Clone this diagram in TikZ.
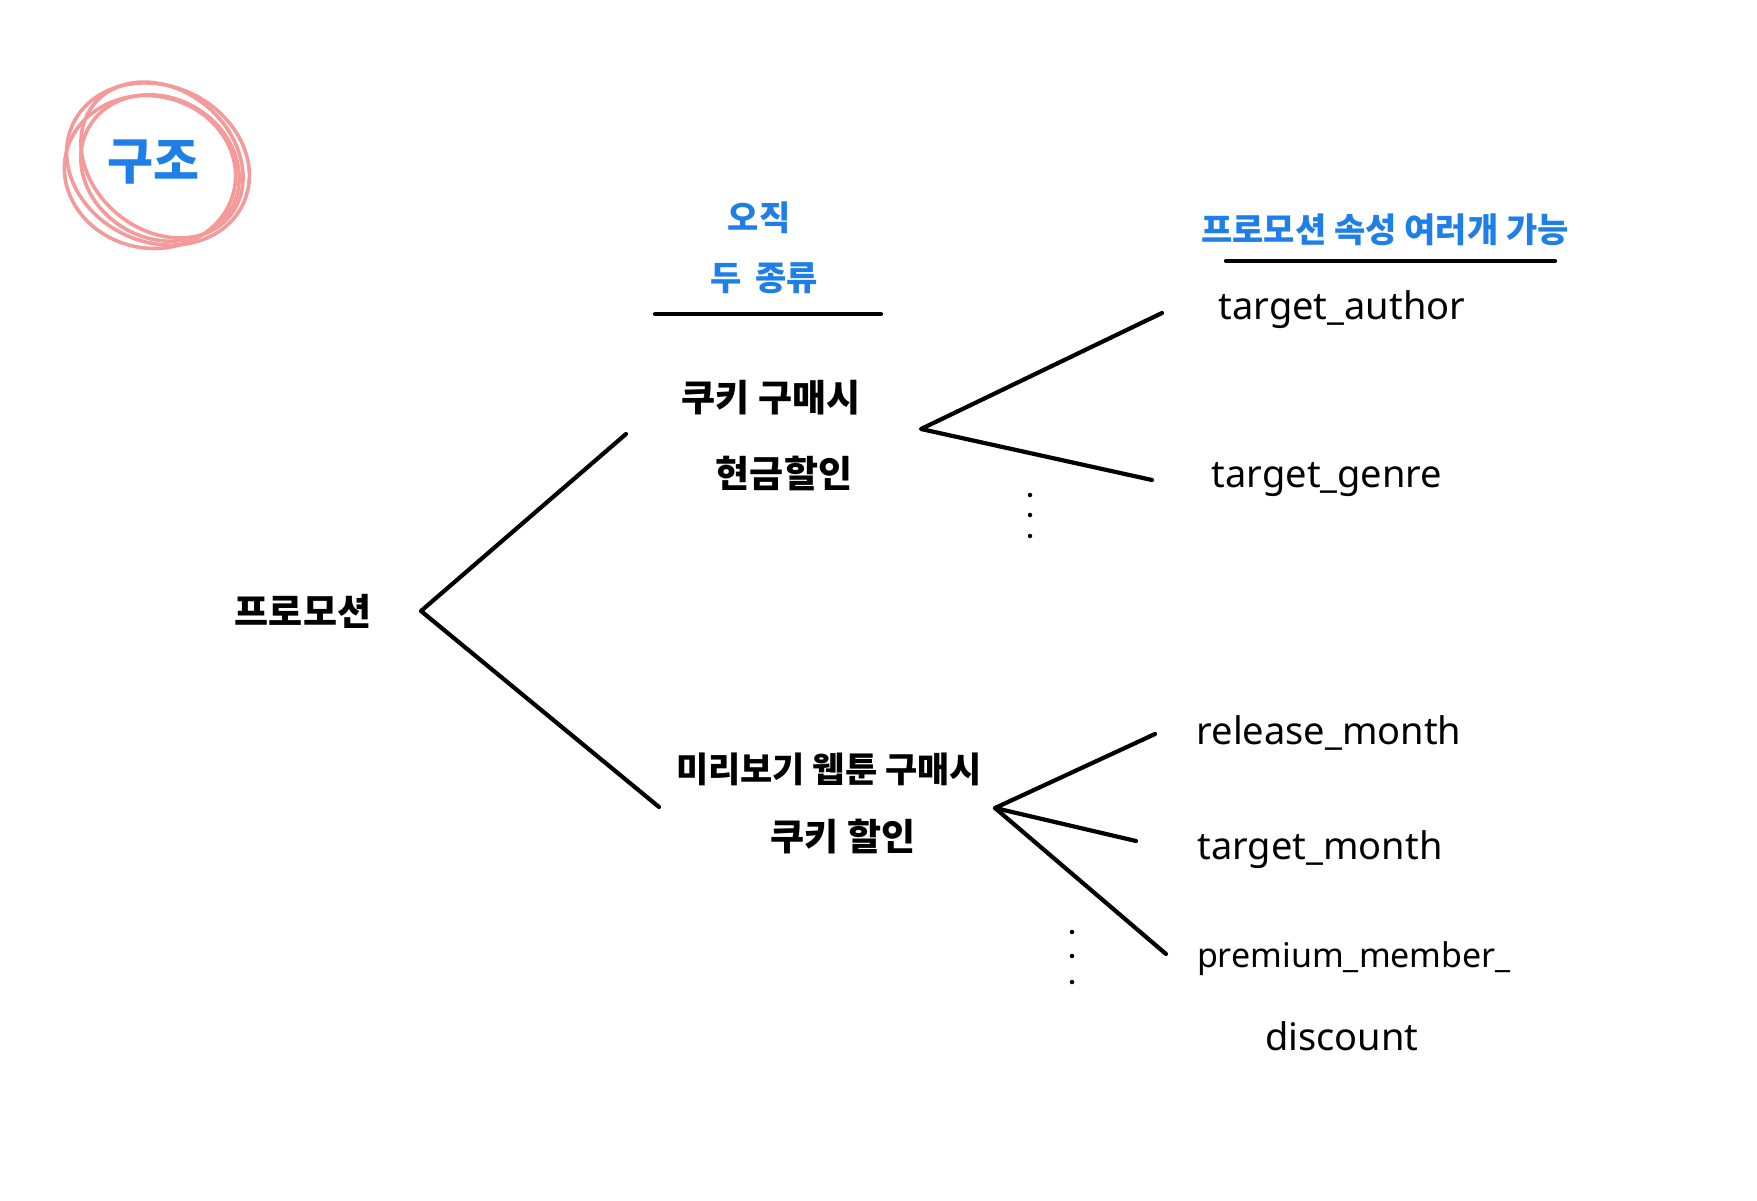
\documentclass[tikz,border=0pt]{standalone}
\usepackage{fontspec}
\setmainfont{Noto Sans CJK KR}
\newfontfamily\latinhand{Noto Sans}
\definecolor{penblue}{HTML}{1F7FE8}
\definecolor{penpink}{HTML}{F49A9A}
\tikzset{
  pen/.style={line width=4.2pt, line cap=round, line join=round, black},
  kor/.style={font=\bfseries\fontsize{37}{44}\selectfont, inner sep=0pt, align=center},
  korblue/.style={font=\bfseries\fontsize{34}{40}\selectfont, inner sep=0pt, align=center, text=penblue},
  lat/.style={font=\latinhand\fontsize{38}{44}\selectfont, inner sep=0pt},
  loop/.style={line width=3.6pt, penpink},
  dotm/.style={circle, fill=black, inner sep=0pt, minimum size=4.5pt}
}
\begin{document}
\begin{tikzpicture}[x=1pt,y=-1pt]
\useasboundingbox (0,0) rectangle (1757,1200);
% title circle
\draw[loop, rotate around={-25:(158,164)}] (158,164) ellipse (94 and 78);
\draw[loop, rotate around={-40:(162,160)}] (162,160) ellipse (88 and 70);
\draw[loop, rotate around={-12:(150,172)}] (150,172) ellipse (86 and 76);
\draw[loop, rotate around={-30:(160,168)}] (160,168) ellipse (82 and 70);
\node[korblue, font=\bfseries\fontsize{50}{56}\selectfont] (title) at (153,162) {구조};
% headers
\node[korblue] (only) at (759,218) {오직};
\node[korblue] (two) at (764,278) {두\hspace{14pt}종류};
\coordinate (u1a) at (655,314);
\coordinate (u1b) at (881,314);
\draw[pen] (u1a) -- (u1b);
\node[korblue] (multi) at (1385,230) {프로모션 속성 여러개 가능};
\coordinate (u2a) at (1226,261);
\coordinate (u2b) at (1555,261);
\draw[pen] (u2a) -- (u2b);
% root
\node[kor] (promo) at (303,611) {프로모션};
\coordinate (v0) at (421,611);
\coordinate (e1) at (626,434);
\coordinate (e2) at (659,807);
\draw[pen] (e1) -- (v0) -- (e2);
% upper branch
\node[kor] (c1a) at (771,398) {쿠키 구매시};
\node[kor] (c1b) at (784,473) {현금할인};
\coordinate (v1) at (921,429);
\coordinate (a1) at (1162,313);
\coordinate (a2) at (1152,480);
\draw[pen] (a1) -- (v1) -- (a2);
\node[lat] (ta) at (1342,310) {target\_author};
\node[lat] (tg) at (1327,480) {target\_genre};
\node[dotm] (d1) at (1030,495) {};
\node[dotm] (d2) at (1030,515) {};
\node[dotm] (d3) at (1030,536) {};
% lower branch
\node[kor, font=\bfseries\fontsize{35}{42}\selectfont] (c2a) at (829,769) {미리보기 웹툰 구매시};
\node[kor] (c2b) at (843,837) {쿠키 할인};
\coordinate (v2) at (995,808);
\coordinate (b1) at (1155,734);
\coordinate (b2) at (1136,841);
\coordinate (b3) at (1166,954);
\draw[pen] (b1) -- (v2) -- (b2);
\draw[pen] (v2) -- (b3);
\node[lat] (rm) at (1329,733) {release\_month};
\node[lat] (tm) at (1320,850) {target\_month};
\node[lat, font=\latinhand\fontsize{34}{40}\selectfont] (pm) at (1354,959) {premium\_member\_};
\node[lat] (dc) at (1342,1036) {discount};
\node[dotm] (e4) at (1072,932) {};
\node[dotm] (e5) at (1072,956) {};
\node[dotm] (e6) at (1072,982) {};
\end{tikzpicture}
\end{document}
